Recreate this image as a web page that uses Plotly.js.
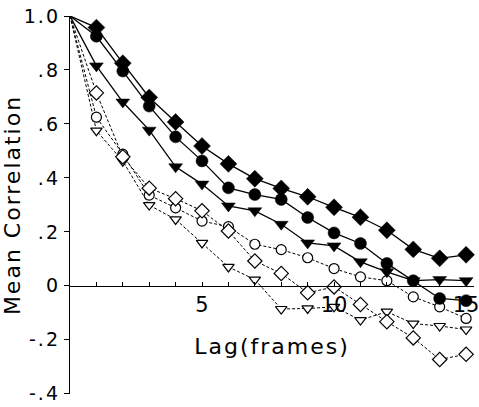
<!DOCTYPE html>
<html>
<head>
<meta charset="utf-8">
<script src="https://cdn.plot.ly/plotly-3.0.1.min.js"></script>
<style>
  html, body { margin: 0; padding: 0; background: #fff; }
  #chart { width: 479px; height: 407px; }
  .xtitle { letter-spacing: 2px; }
  .ytitle { letter-spacing: 2px; }
  .ytick text { letter-spacing: 2px; }
</style>
</head>
<body>
<div id="chart"></div>
<script>
// ---- data ----
const lags = [0, 1, 2, 3, 4, 5, 6, 7, 8, 9, 10, 11, 12, 13, 14, 15];

const filledDiamond  = [1.0, 0.957, 0.825, 0.698, 0.607, 0.518, 0.452, 0.397, 0.361, 0.330, 0.291, 0.254, 0.206, 0.135, 0.102, 0.115];
const filledCircle   = [1.0, 0.925, 0.796, 0.666, 0.552, 0.463, 0.363, 0.338, 0.320, 0.253, 0.196, 0.157, 0.083, 0.019, -0.047, -0.055];
const filledTriangle = [1.0, 0.815, 0.681, 0.577, 0.441, 0.377, 0.296, 0.278, 0.228, 0.159, 0.148, 0.089, 0.052, 0.019, 0.023, 0.019];

const openDiamond  = [1.0, 0.715, 0.478, 0.362, 0.323, 0.278, 0.203, 0.092, 0.046, -0.026, -0.004, -0.069, -0.133, -0.193, -0.273, -0.254];
const openCircle   = [1.0, 0.625, 0.488, 0.336, 0.289, 0.240, 0.219, 0.154, 0.134, 0.104, 0.064, 0.033, 0.019, -0.041, -0.078, -0.121];
const openTriangle = [1.0, 0.575, 0.462, 0.299, 0.246, 0.159, 0.070, 0.023, -0.086, -0.084, -0.078, -0.127, -0.096, -0.140, -0.149, -0.162];

const xTickVals = [1, 2, 3, 4, 5, 6, 7, 8, 9, 10, 11, 12, 13, 14, 15];
const xTickText = ["", "", "", "", "5", "", "", "", "", "10", "", "", "", "", "15"];
const yTickVals = [1.0, 0.8, 0.6, 0.4, 0.2, 0, -0.2, -0.4];
const yTickText = ["1.0", ".8", ".6", ".4", ".2", "0", "-.2", "-.4"];

// ---- styling ----
const FONT = "DejaVu Sans, Liberation Sans, Arial, sans-serif";
function sizes(s) { return lags.map((l, i) => (i === 0 ? 0 : s)); }

function solid(y, symbol, size) {
  return {
    x: lags, y: y, type: "scatter", mode: "lines+markers", cliponaxis: false,
    line: { color: "#000000", width: 1.3 },
    marker: { symbol: symbol, size: sizes(size), color: "#000000", opacity: 1,
              line: { color: "#000000", width: 0.5 } },
    showlegend: false, hoverinfo: "x+y"
  };
}
function dashed(y, symbol, size) {
  return {
    x: lags, y: y, type: "scatter", mode: "lines+markers", cliponaxis: false,
    line: { color: "#000000", width: 1, dash: "3px,2px" },
    marker: { symbol: symbol, size: sizes(size), color: "#ffffff", opacity: 1,
              line: { color: "#000000", width: 1.2 } },
    showlegend: false, hoverinfo: "x+y"
  };
}

const traces = [
  dashed(openTriangle, "triangle-down", 10),
  dashed(openCircle, "circle", 10),
  dashed(openDiamond, "diamond", 11),
  solid(filledTriangle, "triangle-down", 12),
  solid(filledCircle, "circle", 12),
  solid(filledDiamond, "diamond", 13)
];

const yMin = -0.401, yMax = 1.0;

const layout = {
  width: 479, height: 407,
  margin: { l: 70, r: 5, t: 16, b: 13 },
  paper_bgcolor: "#fff", plot_bgcolor: "#fff",
  font: { family: FONT, color: "#000" },
  xaxis: {
    range: [0, 15.3],
    anchor: "free",
    position: (0 - yMin) / (yMax - yMin),
    showline: true, linecolor: "#000", linewidth: 1.2,
    ticks: "inside", ticklen: 4, tickcolor: "#000", tickwidth: 1,
    tickmode: "array", tickvals: xTickVals, ticktext: xTickText,
    tickfont: { family: FONT, size: 21, color: "#000" },
    ticklabeloverflow: "allow",
    showgrid: false, zeroline: false,
    title: { text: "Lag(frames)", font: { family: FONT, size: 22, color: "#000" }, standoff: 22 }
  },
  yaxis: {
    range: [yMin, yMax],
    showline: true, linecolor: "#000", linewidth: 1.2,
    ticks: "outside", ticklen: 5, tickcolor: "#000", tickwidth: 1,
    tickmode: "array", tickvals: yTickVals, ticktext: yTickText,
    tickfont: { family: FONT, size: 19, color: "#000" },
    ticklabeloverflow: "allow",
    showgrid: false, zeroline: false,
    title: { text: "Mean Correlation", font: { family: FONT, size: 22, color: "#000" }, standoff: 2 }
  }
};

Plotly.newPlot("chart", traces, layout, { displayModeBar: false, staticPlot: true });
</script>
</body>
</html>
